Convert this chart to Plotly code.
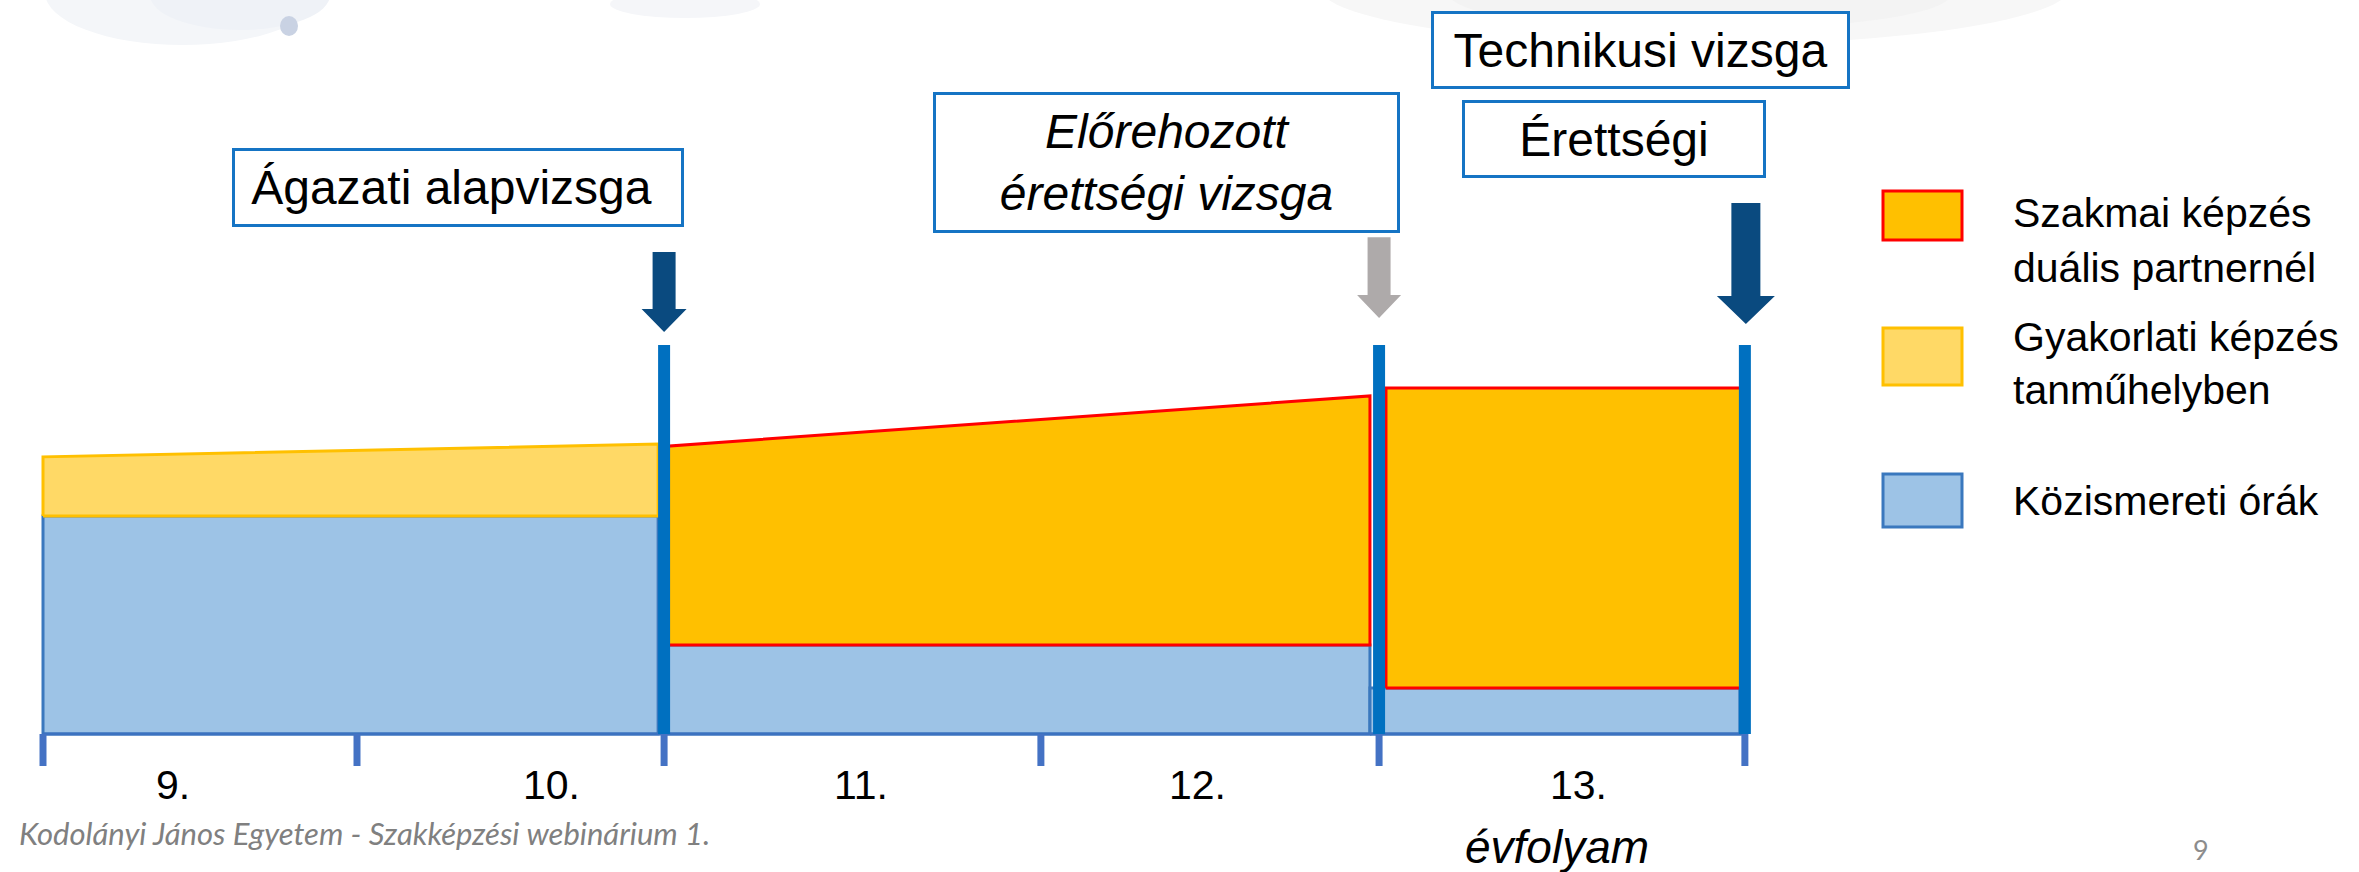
import plotly.graph_objects as go

W, H = 2359, 872

# ---------------- data ----------------
grade_labels = ["9.", "10.", "11.", "12.", "13."]
grade_label_pos = [9.414, 10.621, 11.605, 12.678, 13.889]
grade_edges = [9.0, 10.0, 10.978, 12.178, 13.255, 14.42]

# Közismereti órák (blue)
kozism_start = [9.0, 10.987, 13.226]
kozism_end = [10.959, 13.226, 14.404]
kozism_top = [63.0, 25.7, 13.3]

# Gyakorlati képzés tanműhelyben (light yellow)
gyak_start = [9.0]
gyak_end = [10.959]
gyak_bottom = [63.0]
gyak_top_left = [80.1]
gyak_top_right = [83.8]

# Szakmai képzés duális partnernél (orange)
szakm_start = [10.987, 13.277]
szakm_end = [13.226, 14.42]
szakm_bottom = [25.7, 13.3]
szakm_top_left = [83.2, 100.0]
szakm_top_right = [97.7, 100.0]

# exam boxes / arrows
exam_texts = ["Ágazati alapvizsga&nbsp;", "<i>Előrehozott<br>érettségi vizsga</i>",
              "Technikusi vizsga", "Érettségi"]
divider_edges = [grade_edges[2], grade_edges[4], grade_edges[5]]
divider_top = 112.4
arrow_edges = [grade_edges[2], grade_edges[4], grade_edges[5]]
arrow_top = [139.3, 143.6, 153.5]
arrow_tip = [116.2, 120.2, 118.5]

# ---------------- geometry helpers ----------------
SX = 314.0   # px per year unit
SY = 3.46    # px per hour unit
X0 = 9.0 - 43 / SX
BASE_PX = 734


def dx(px):
    return X0 + px / SX


def dy(py):
    return (BASE_PX - py) / SY


def pxx(x):
    return (x - X0) * SX


def pxy(y):
    return BASE_PX - y * SY


def px_(px):
    return px / W


def py_(py):
    return 1 - py / H


FONT = "Liberation Sans, Arial, sans-serif"
BLUE_FILL = "#9DC3E6"
BLUE_LINE = "#3A78BE"
YEL_FILL = "#FFD966"
YEL_LINE = "#FFC000"
ORG_FILL = "#FFC000"
ORG_LINE = "#FF0000"
DIV_COL = "#0070C0"
ARROW_COLS = ["#0A4A7F", "#AEAAAA", "#0A4A7F"]

fig = go.Figure()


def poly(xs, xe, yb, ytl, ytr, fill, line, name):
    for i in range(len(xs)):
        fig.add_trace(go.Scatter(
            x=[xs[i], xe[i], xe[i], xs[i], xs[i]],
            y=[yb[i], yb[i], ytr[i], ytl[i], yb[i]],
            mode="lines", fill="toself", fillcolor=fill,
            line=dict(color=line, width=3), name=name,
            showlegend=False, hoverinfo="skip"))


poly(kozism_start, kozism_end, [0] * 3, kozism_top, kozism_top,
     BLUE_FILL, BLUE_LINE, "Közismereti órák")
poly(gyak_start, gyak_end, gyak_bottom, gyak_top_left, gyak_top_right,
     YEL_FILL, YEL_LINE, "Gyakorlati képzés tanműhelyben")
poly(szakm_start, szakm_end, szakm_bottom, szakm_top_left, szakm_top_right,
     ORG_FILL, ORG_LINE, "Szakmai képzés duális partnernél")

shapes = []
# faint watercolour texture of the slide background (top edge)
bg_blobs = [(45, -60, 320, 45, "#F4F6F9"), (150, -40, 330, 30, "#EFF2F7"),
            (1320, -70, 2070, 45, "#F7F7F7"), (1450, -40, 1950, 30, "#F3F3F3"),
            (280, 16, 298, 36, "#C9D2E3"), (610, -10, 760, 18, "#F5F6F9")]
for x0, y0, x1, y1, c in bg_blobs:
    shapes.append(dict(type="circle", xref="paper", yref="paper", layer="below",
                       x0=px_(x0), x1=px_(x1), y0=py_(y0), y1=py_(y1),
                       fillcolor=c, line=dict(width=0)))
# baseline
shapes.append(dict(type="line", xref="x", yref="y", x0=grade_edges[0] - 0.003,
                   x1=grade_edges[-1], y0=0, y1=0,
                   line=dict(color="#3C72C0", width=3)))
# ticks
for e in grade_edges:
    shapes.append(dict(type="line", xref="x", yref="y", x0=e, x1=e,
                       y0=0, y1=dy(766), line=dict(color="#4472C4", width=7)))
# dividers
for e in divider_edges:
    shapes.append(dict(type="line", xref="x", yref="y", x0=e, x1=e,
                       y0=0, y1=divider_top, line=dict(color=DIV_COL, width=12)))
# arrows
shaft_half = [11.5, 11.5, 14.5]
head_half = [22.5, 22.0, 29.0]
head_len = [23, 23, 28]
for i, e in enumerate(arrow_edges):
    cx = pxx(e) + (1 if i == 2 else 0)
    top = pxy(arrow_top[i])
    tip = pxy(arrow_tip[i])
    hs = tip - head_len[i]
    pts = [(cx - shaft_half[i], top), (cx + shaft_half[i], top),
           (cx + shaft_half[i], hs), (cx + head_half[i], hs), (cx, tip),
           (cx - head_half[i], hs), (cx - shaft_half[i], hs)]
    path = "M " + " L ".join(f"{dx(a):.5f},{dy(b):.5f}" for a, b in pts) + " Z"
    shapes.append(dict(type="path", xref="x", yref="y", path=path,
                       fillcolor=ARROW_COLS[i], line=dict(width=0)))

# legend swatches
sw = [(1883, 191, 1962, 240, ORG_FILL, ORG_LINE),
      (1883, 328, 1962, 385, YEL_FILL, YEL_LINE),
      (1883, 474, 1962, 527, BLUE_FILL, BLUE_LINE)]
for x0, y0, x1, y1, f, l in sw:
    shapes.append(dict(type="rect", xref="paper", yref="paper",
                       x0=px_(x0), x1=px_(x1), y0=py_(y0), y1=py_(y1),
                       fillcolor=f, line=dict(color=l, width=3)))

annotations = []
# exam boxes (center px, width, height)
boxes = [(458, 187.5, 452, 79), (1166.5, 162.5, 467, 141),
         (1640.5, 50, 419, 78), (1614, 139, 304, 78)]
for txt, (cx, cy, bw, bh) in zip(exam_texts, boxes):
    annotations.append(dict(
        x=px_(cx), y=py_(cy), xref="paper", yref="paper", text=txt,
        showarrow=False, xanchor="center", yanchor="middle",
        width=bw - 6, height=bh - 6, borderpad=0, borderwidth=3,
        bordercolor="#1574C4", bgcolor="white",
        font=dict(family=FONT, size=48, color="black")))

# grade labels
for lab, xp in zip(grade_labels, grade_label_pos):
    annotations.append(dict(x=xp, y=dy(785), xref="x", yref="y", text=lab,
                            showarrow=False, xanchor="center", yanchor="middle",
                            font=dict(family=FONT, size=41, color="black")))

annotations.append(dict(x=px_(1557), y=py_(847), xref="paper", yref="paper",
                        text="<i>évfolyam</i>", showarrow=False,
                        xanchor="center", yanchor="middle",
                        font=dict(family=FONT, size=46, color="black")))

# legend texts
leg_lines = [(213, "Szakmai képzés"), (268, "duális partnernél"),
             (337, "Gyakorlati képzés"), (390, "tanműhelyben"),
             (501, "Közismereti órák")]
for yy, t in leg_lines:
    annotations.append(dict(x=px_(2011), y=py_(yy), xref="paper", yref="paper",
                            text=t, showarrow=False, xanchor="left",
                            yanchor="middle",
                            font=dict(family=FONT, size=41, color="black")))

# footer
annotations.append(dict(x=px_(17), y=py_(833), xref="paper", yref="paper",
                        text="<i>Kodolányi János Egyetem - Szakképzési webinárium 1.</i>",
                        showarrow=False, xanchor="left", yanchor="middle",
                        font=dict(family="Lato, Open Sans, sans-serif", size=31,
                                  color="#808080")))
annotations.append(dict(x=px_(2201), y=py_(849), xref="paper", yref="paper",
                        text="9", showarrow=False, xanchor="center",
                        yanchor="middle",
                        font=dict(family="Lato, Open Sans, sans-serif", size=27,
                                  color="#8C8C8C")))

fig.update_layout(
    width=W, height=H, margin=dict(l=0, r=0, t=0, b=0),
    paper_bgcolor="white", plot_bgcolor="white",
    xaxis=dict(range=[X0, X0 + W / SX], visible=False, fixedrange=True),
    yaxis=dict(range=[dy(H), dy(0)], visible=False, fixedrange=True),
    shapes=shapes, annotations=annotations, showlegend=False)

fig.write_html(
    "out.html",
    config={"displayModeBar": False, "staticPlot": True},
    post_script="document.body.style.margin='0';document.body.style.padding='0';"
                "document.body.style.overflow='hidden';")
